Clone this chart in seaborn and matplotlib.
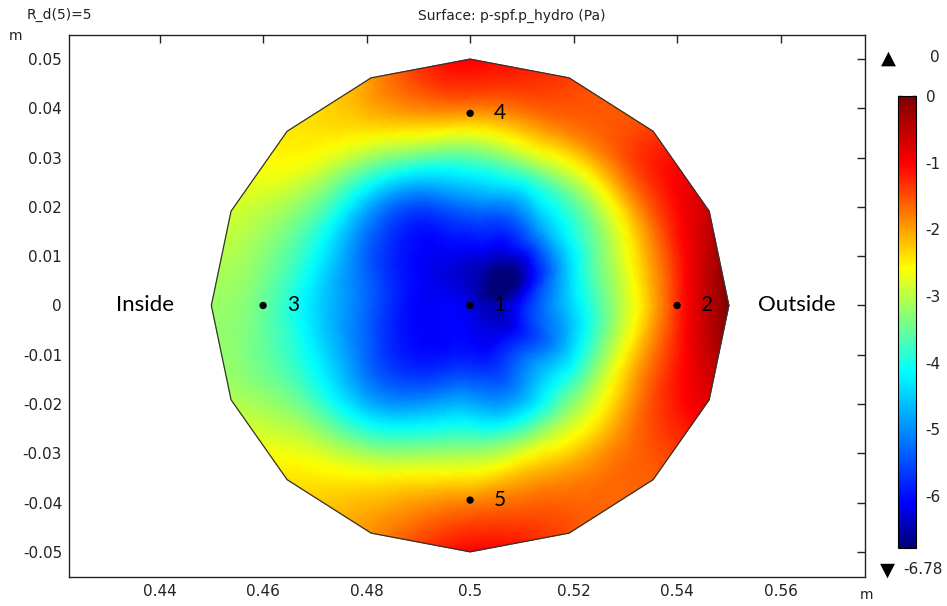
import numpy as np
import pandas as pd
import matplotlib
matplotlib.use("Agg")
import matplotlib.pyplot as plt
import matplotlib.tri as mtri
from matplotlib.colors import LinearSegmentedColormap, Normalize
import seaborn as sns

# ---- mesh geometry: centre node plus five rings of 16 nodes (16-gon section) ----
centre_x = 0.5
centre_y = 0.0
ring_radii = [0.01, 0.02, 0.03, 0.04, 0.05]
ring_angles_deg = [0, 22.5, 45, 67.5, 90, 112.5, 135, 157.5,
                   180, 202.5, 225, 247.5, 270, 292.5, 315, 337.5]

# ---- hydrostatic pressure (Pa) at the nodes, same angle order as above ----
p_centre = -6.25
p_r10 = [-5.95, -6.55, -6.78, -6.40, -6.25, -6.20, -6.20, -6.10,
         -6.10, -6.10, -6.10, -6.00, -5.95, -6.00, -5.95, -6.05]
p_r20 = [-4.40, -4.60, -4.90, -5.30, -5.20, -5.70, -5.80, -5.50,
         -5.30, -5.50, -5.60, -5.10, -4.75, -5.00, -4.55, -4.70]
p_r30 = [-2.90, -3.00, -3.40, -3.40, -3.60, -4.00, -4.40, -4.30,
         -4.40, -4.40, -4.40, -3.60, -3.15, -3.05, -3.00, -2.80]
p_r40 = [-1.30, -1.50, -1.75, -1.80, -1.80, -2.25, -2.85, -3.30,
         -3.50, -3.50, -3.00, -2.30, -1.80, -1.80, -1.85, -1.40]
p_r50 = [0.00, -0.60, -1.40, -1.40, -1.00, -1.95, -2.45, -2.85,
         -3.20, -3.05, -2.40, -1.90, -1.00, -1.50, -1.60, -0.80]

# ---- probe points ----
probe_labels = ["1", "2", "3", "4", "5"]
probe_x = [0.50, 0.54, 0.46, 0.50, 0.50]
probe_y = [0.0, 0.0, 0.0, 0.039, -0.0395]

# ---- colour range and ticks ----
p_min, p_max = -6.78, 0.0
cbar_ticks = [0, -1, -2, -3, -4, -5, -6]
x_ticks = [0.44, 0.46, 0.48, 0.50, 0.52, 0.54, 0.56]
x_ticklabels = ["0.44", "0.46", "0.48", "0.5", "0.52", "0.54", "0.56"]
y_ticks = [-0.05, -0.04, -0.03, -0.02, -0.01, 0.0, 0.01, 0.02, 0.03, 0.04, 0.05]
y_ticklabels = ["-0.05", "-0.04", "-0.03", "-0.02", "-0.01", "0",
                "0.01", "0.02", "0.03", "0.04", "0.05"]

# ---- assemble nodal table ----
ring_values = [p_r10, p_r20, p_r30, p_r40, p_r50]
rows = [{"x": centre_x, "y": centre_y, "p": p_centre}]
for r, vals in zip(ring_radii, ring_values):
    for a, v in zip(ring_angles_deg, vals):
        t = np.deg2rad(a)
        rows.append({"x": centre_x + r * np.cos(t), "y": centre_y + r * np.sin(t), "p": v})
nodes = pd.DataFrame(rows)

sns.set_theme(style="white")
plt.rcParams["font.family"] = ["DejaVu Sans"]

rainbow = LinearSegmentedColormap.from_list(
    "rainbow_surface",
    [(0.00, (0.0, 0.0, 0.47)),
     (0.10, (0.0, 0.0, 1.0)),
     (0.39, (0.0, 1.0, 1.0)),
     (0.62, (1.0, 1.0, 0.0)),
     (0.85, (1.0, 0.0, 0.0)),
     (1.00, (0.5, 0.0, 0.0))])
norm = Normalize(vmin=p_min, vmax=p_max)

fig = plt.figure(figsize=(9.47, 6.06), dpi=100)
ax = fig.add_axes([0.0729, 0.0479, 0.8405, 0.8944])

tri = mtri.Triangulation(nodes["x"].values, nodes["y"].values)
refiner = mtri.UniformTriRefiner(tri)
tri_f, p_f = refiner.refine_field(nodes["p"].values, subdiv=3)
p_f = np.clip(p_f, p_min, p_max)
surf = ax.tripcolor(tri_f, p_f, shading="gouraud", cmap=rainbow, norm=norm)

# outline of the section
outer = np.deg2rad(ring_angles_deg + [ring_angles_deg[0]])
ax.plot(centre_x + ring_radii[-1] * np.cos(outer),
        centre_y + ring_radii[-1] * np.sin(outer),
        color="#333333", lw=0.9)

# probe points
sns.scatterplot(x=probe_x, y=probe_y, color="black", s=28, edgecolor="none",
                ax=ax, zorder=5, legend=False)
for lab, px, py in zip(probe_labels, probe_x, probe_y):
    ax.annotate(lab, (px, py), xytext=(17, 0), textcoords="offset points",
                ha="left", va="center", fontsize=15, family=["Lato"], color="black")

ax.text(0.4372, 0.0, "Inside", ha="center", va="center", fontsize=16,
        family=["Lato"], color="black")
ax.text(0.5632, 0.0, "Outside", ha="center", va="center", fontsize=16,
        family=["Lato"], color="black")

ax.set_xlim(0.4225, 0.5763)
ax.set_ylim(-0.0551, 0.0549)
ax.set_xticks(x_ticks)
ax.set_xticklabels(x_ticklabels)
ax.set_yticks(y_ticks)
ax.set_yticklabels(y_ticklabels)
ax.tick_params(direction="in", length=6, width=1, color="#222222",
               top=True, right=True, labelsize=11, labelcolor="#222222", pad=5)
for s in ax.spines.values():
    s.set_color("#222222")
    s.set_linewidth(1.0)
ax.set_facecolor("white")
ax.grid(False)

# colour bar
cax = fig.add_axes([898 / 947, 1 - 548 / 606, 18 / 947, 452 / 606])
cb = fig.colorbar(surf, cax=cax, ticks=cbar_ticks)
cb.ax.set_yticklabels([str(t) for t in cbar_ticks])
cb.ax.tick_params(direction="in", length=3, width=1, color="black",
                  left=True, right=True, labelsize=11, labelcolor="#222222", pad=7)
cb.outline.set_edgecolor("black")
cb.outline.set_linewidth(0.8)

# extremes markers, plot labels and units
fig.text(888 / 947, 1 - 58 / 606, "\u25B2", ha="center", va="center", fontsize=14, color="black")
fig.text(930 / 947, 1 - 58 / 606, "0", ha="left", va="center", fontsize=11, color="#222222")
fig.text(887 / 947, 1 - 570 / 606, "\u25BC", ha="center", va="center", fontsize=14, color="black")
fig.text(903 / 947, 1 - 570 / 606, "-6.78", ha="left", va="center", fontsize=11, color="#222222")
fig.text(27 / 947, 1 - 15 / 606, "R_d(5)=5", ha="left", va="center", fontsize=10, color="#222222")
fig.text(512 / 947, 1 - 16 / 606, "Surface: p-spf.p_hydro (Pa)", ha="center", va="center",
         fontsize=10, color="#222222")
fig.text(16 / 947, 1 - 36 / 606, "m", ha="center", va="center", fontsize=10, color="#222222")
fig.text(866 / 947, 1 - 595 / 606, "m", ha="center", va="center", fontsize=10, color="#222222")

fig.savefig("out.png", dpi=100)
